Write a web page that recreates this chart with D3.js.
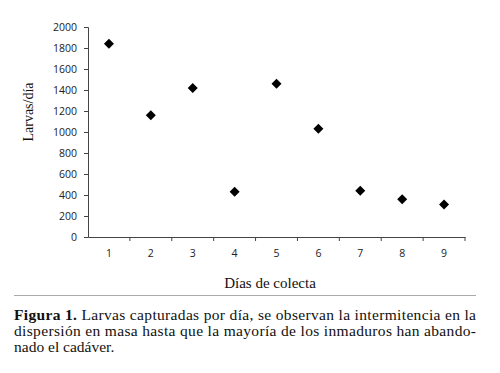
<!DOCTYPE html>
<head>
	<meta charset="utf-8">
	<script src="https://d3js.org/d3.v7.min.js"></script>
	<style>
		body { margin: 0; background: white; }
		.tick text { font-family: "Open Sans", "DejaVu Sans", sans-serif; font-size: 10.5px; fill: #222; }
		.serif { font-family: "Liberation Serif", "Times New Roman", serif; fill: #111; }
	</style>
</head>
<body>
	<script>
		// data
		var days = ["1", "2", "3", "4", "5", "6", "7", "8", "9"];
		var larvae = [1840, 1160, 1420, 430, 1460, 1030, 440, 360, 310];
		var yTicks = [0, 200, 400, 600, 800, 1000, 1200, 1400, 1600, 1800, 2000];
		var caption = [
			["Figura 1.", " Larvas capturadas por día, se observan la intermitencia en la"],
			["", "dispersión en masa hasta que la mayoría de los inmaduros han abando-"],
			["", "nado el cadáver."]
		];

		var w = 500, h = 373;
		var plot = {left: 88, right: 465, top: 27, bottom: 237};

		var svg = d3.select("body").append("svg")
			.attr("width", w)
			.attr("height", h);

		var xScale = d3.scaleBand()
			.domain(days)
			.range([plot.left, plot.right]);

		var yScale = d3.scaleLinear()
			.domain([0, 2000])
			.range([plot.bottom, plot.top]);

		// y axis
		var yAxis = svg.append("g")
			.attr("transform", "translate(" + plot.left + ",0)")
			.call(d3.axisLeft(yScale).tickValues(yTicks).tickFormat(d3.format("d")).tickSize(4).tickPadding(7));
		yAxis.select(".domain").attr("stroke", "#444");
		yAxis.selectAll(".tick line").attr("stroke", "#444");

		// x axis, ticks between categories
		var xAxis = svg.append("g")
			.attr("transform", "translate(0," + plot.bottom + ")")
			.call(d3.axisBottom(xScale).tickSize(0).tickPadding(13));
		xAxis.select(".domain").attr("stroke", "#444");

		var edges = days.map(function(d) { return xScale(d) + xScale.bandwidth(); });
		xAxis.selectAll(".sep")
			.data(edges)
			.enter()
			.append("line")
			.attr("x1", function(d) { return d; })
			.attr("x2", function(d) { return d; })
			.attr("y1", 0)
			.attr("y2", 4)
			.attr("stroke", "#444");

		// diamond markers
		var diamond = d3.symbol().type(d3.symbolSquare).size(50);
		svg.selectAll(".pt")
			.data(larvae)
			.enter()
			.append("path")
			.attr("class", "pt")
			.attr("d", diamond)
			.attr("transform", function(d, i) {
				return "translate(" + (xScale(days[i]) + xScale.bandwidth() / 2) + "," + yScale(d) + ") rotate(45)";
			})
			.attr("fill", "black");

		// axis titles
		svg.append("text")
			.attr("class", "serif")
			.attr("transform", "translate(33,112) rotate(-90)")
			.attr("text-anchor", "middle")
			.attr("font-size", "14px")
			.text("Larvas/día");

		svg.append("text")
			.attr("class", "serif")
			.attr("x", 270)
			.attr("y", 288)
			.attr("text-anchor", "middle")
			.attr("font-size", "15px")
			.text("Días de colecta");

		// rule above caption
		svg.append("line")
			.attr("x1", 14).attr("x2", 476)
			.attr("y1", 295.5).attr("y2", 295.5)
			.attr("stroke", "#aaa");

		// caption
		caption.forEach(function(line, i) {
			var t = svg.append("text")
				.attr("class", "serif")
				.attr("x", 14)
				.attr("y", 320 + i * 16)
				.attr("font-size", "15.5px");
			if (i < 2) {
				t.attr("textLength", 462).attr("lengthAdjust", "spacing");
			}
			if (line[0]) {
				t.append("tspan").attr("font-weight", "bold").text(line[0]);
			}
			t.append("tspan").text(line[1]);
		});
	</script>
</body>
